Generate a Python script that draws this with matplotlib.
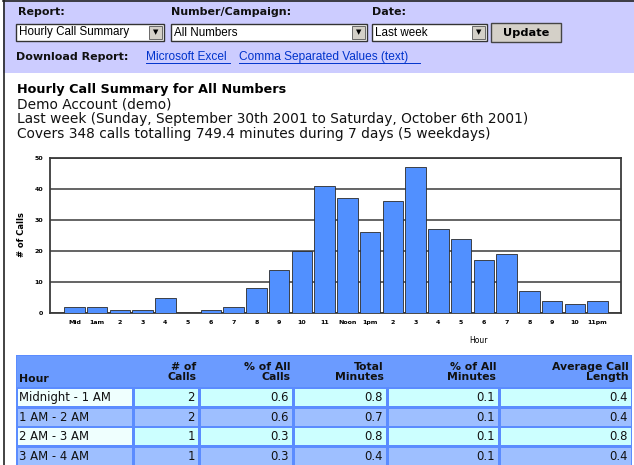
import matplotlib
matplotlib.use('Agg')
import matplotlib.pyplot as plt
from matplotlib.patches import Rectangle

W, H = 634, 465

# chart data
hour_labels = ['Mid', '1am', '2', '3', '4', '5', '6', '7', '8', '9', '10', '11',
               'Noon', '1pm', '2', '3', '4', '5', '6', '7', '8', '9', '10', '11pm']
calls = [2, 2, 1, 1, 5, 0, 1, 2, 8, 14, 20, 41,
         37, 26, 36, 47, 27, 24, 17, 19, 7, 4, 3, 4]

# table data
tbl_header = ['Hour', '# of\nCalls', '% of All\nCalls', 'Total\nMinutes',
              '% of All\nMinutes', 'Average Call\nLength']
tbl_hours = ['Midnight - 1 AM', '1 AM - 2 AM', '2 AM - 3 AM', '3 AM - 4 AM']
tbl_calls = [2, 2, 1, 1]
tbl_pct_calls = [0.6, 0.6, 0.3, 0.3]
tbl_minutes = [0.8, 0.7, 0.8, 0.4]
tbl_pct_minutes = [0.1, 0.1, 0.1, 0.1]
tbl_avg_len = [0.4, 0.4, 0.8, 0.4]

fig = plt.figure(figsize=(W / 100, H / 100), dpi=100)
fig.patch.set_facecolor('white')

# page layer in pixel coordinates
page = fig.add_axes([0, 0, 1, 1])
page.set_xlim(0, W)
page.set_ylim(H, 0)
page.axis('off')

# top form band
page.add_patch(Rectangle((3, 0), W, 73, facecolor='#ccccff', edgecolor='none'))
page.plot([3.5, 3.5], [0, H], color='#222222', lw=1.2)
page.plot([3, W], [0.8, 0.8], color='#222222', lw=1.2)

lab = dict(fontsize=8.0, fontweight='bold', va='center', ha='left', color='#111111')
page.text(18, 12, 'Report:', **lab)
page.text(171, 12, 'Number/Campaign:', **lab)
page.text(372, 12, 'Date:', **lab)

def dropdown(x0, x1, txt):
    page.add_patch(Rectangle((x0, 24), x1 - x0, 17, facecolor='white',
                             edgecolor='#333333', lw=1))
    page.add_patch(Rectangle((x1 - 15, 26), 13, 13, facecolor='#d4d0c8',
                             edgecolor='#555555', lw=0.6))
    page.text(x1 - 8.5, 32.5, '\u25bc', fontsize=5, ha='center', va='center')
    page.text(x0 + 3, 32.5, txt, fontsize=8.4, family='Liberation Sans',
              va='center', ha='left')

dropdown(16, 164, 'Hourly Call Summary')
dropdown(171, 367, 'All Numbers')
dropdown(372, 487, 'Last week')
page.add_patch(Rectangle((491, 23), 70, 19, facecolor='#d4d0c8',
                         edgecolor='#444444', lw=1))
page.text(526, 32.5, 'Update', fontsize=8.2, fontweight='bold',
          ha='center', va='center')

page.text(16, 57, 'Download Report:', **lab)
link = dict(fontsize=8.6, color='#0033cc', va='center', ha='left',
            family='Liberation Sans')
page.text(146, 57, 'Microsoft Excel', **link)
page.plot([146, 230], [63, 63], color='#0033cc', lw=0.7)
page.text(239, 57, 'Comma Separated Values (text)', **link)
page.plot([239, 420], [63, 63], color='#0033cc', lw=0.7)

# report heading
page.text(17, 89, 'Hourly Call Summary for All Numbers', fontsize=9.2,
          fontweight='bold', va='center', ha='left')
sub = dict(fontsize=9.9, va='center', ha='left', color='#111111')
page.text(17, 104, 'Demo Account (demo)', **sub)
page.text(17, 119, 'Last week (Sunday, September 30th 2001 to Saturday, '
          'October 6th 2001)', **sub)
page.text(17, 134, 'Covers 348 calls totalling 749.4 minutes during 7 days '
          '(5 weekdays)', **sub)

# bar chart
ax = fig.add_axes([50 / W, 1 - 313 / H, 571 / W, 155 / H])
ax.set_facecolor('white')
x = list(range(len(calls)))
ax.bar(x, calls, width=0.9, color='#5190ff', edgecolor='#2a2a2a', lw=0.6,
       zorder=3)
ax.set_xlim(-1.07, 24.03)
ax.set_ylim(0, 50)
ax.set_yticks([0, 10, 20, 30, 40, 50])
ax.set_xticks(x)
ax.set_xticklabels(hour_labels)
ax.tick_params(length=0, labelsize=4.5, pad=5)
for t in ax.get_xticklabels() + ax.get_yticklabels():
    t.set_fontweight('bold')
ax.grid(axis='y', color='#3a3a3a', lw=1.1, zorder=1)
for s in ax.spines.values():
    s.set_color('#3a3a3a')
    s.set_linewidth(1.3)
page.text(22, 235, '# of Calls', rotation=90, fontsize=6, fontweight='bold',
          ha='center', va='center')
page.text(478, 340, 'Hour', fontsize=5.5, ha='center', va='center')

# table
col_edges = [16, 133, 199, 293, 387, 499, 632]
head_top, head_bot = 355, 387
row_h = 19.5
border = '#5b8cff'
page.add_patch(Rectangle((col_edges[0], head_top), col_edges[-1] - col_edges[0],
                         H - head_top + 5, facecolor=border, edgecolor='none'))
page.add_patch(Rectangle((col_edges[0] + 1, head_top + 1),
                         col_edges[-1] - col_edges[0] - 2, head_bot - head_top - 1,
                         facecolor='#6b9bff', edgecolor='none'))
for j, h in enumerate(tbl_header):
    if j == 0:
        page.text(col_edges[0] + 3, 379, h, fontsize=7.8, fontweight='bold',
                  ha='left', va='center', color='#111111')
    else:
        page.text(col_edges[j + 1] - 3, 372, h, fontsize=7.8, fontweight='bold',
                  ha='right', va='center', color='#111111', linespacing=1.05)

rows = list(zip(tbl_hours, tbl_calls, tbl_pct_calls, tbl_minutes,
                tbl_pct_minutes, tbl_avg_len))
for i, r in enumerate(rows):
    top = head_bot + 1 + i * row_h
    light = i % 2 == 0
    for j in range(6):
        if light:
            fc = '#effffe' if j == 0 else '#ccffff'
        else:
            fc = '#9ebfff'
        page.add_patch(Rectangle((col_edges[j] + 1.5, top + 1),
                                 col_edges[j + 1] - col_edges[j] - 3, row_h - 2.5,
                                 facecolor=fc, edgecolor='none'))
        cy = top + row_h / 2
        if j == 0:
            page.text(col_edges[0] + 3, cy, r[0], fontsize=8.4, ha='left',
                      va='center', color='#111111')
        else:
            val = str(r[j]) if j == 1 else f'{r[j]:.1f}'
            page.text(col_edges[j + 1] - 4, cy, val, fontsize=8.4, ha='right',
                      va='center', color='#111111')

fig.savefig('out.png', dpi=100)
